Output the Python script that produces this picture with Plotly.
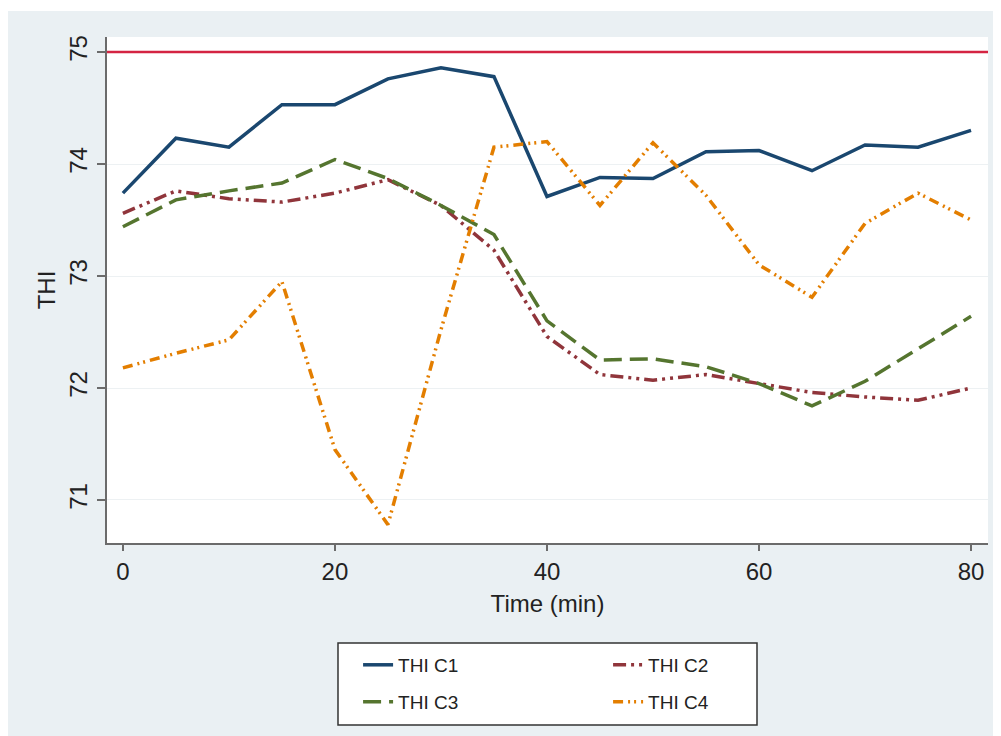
import plotly.graph_objects as go

# ---- data ----
time_min = [0, 5, 10, 15, 20, 25, 30, 35, 40, 45, 50, 55, 60, 65, 70, 75, 80]
thi_c1 = [73.74, 74.23, 74.15, 74.53, 74.53, 74.76, 74.86, 74.78, 73.71, 73.88, 73.87, 74.11, 74.12, 73.94, 74.17, 74.15, 74.30]
thi_c2 = [73.56, 73.76, 73.69, 73.66, 73.74, 73.86, 73.63, 73.23, 72.46, 72.12, 72.07, 72.12, 72.04, 71.96, 71.92, 71.89, 72.00]
thi_c3 = [73.44, 73.68, 73.76, 73.83, 74.04, 73.87, 73.63, 73.37, 72.60, 72.25, 72.26, 72.19, 72.04, 71.84, 72.06, 72.35, 72.64]
thi_c4 = [72.18, 72.31, 72.43, 72.95, 71.45, 70.78, 72.52, 74.15, 74.20, 73.63, 74.19, 73.72, 73.10, 72.81, 73.47, 73.74, 73.50]
threshold = 75
series_names = ["THI C1", "THI C2", "THI C3", "THI C4"]
y_ticks = [71, 72, 73, 74, 75]
x_ticks = [0, 20, 40, 60, 80]

BG = "#EAF0F3"
TXT = "#222222"
AX = "#6b6b6b"
FONT = "Liberation Sans, Arial"

fig = go.Figure()

styles = [
    dict(color="#1a476f", dash="solid", legend="legend"),
    dict(color="#90353b", dash="13px,5px,3px,5px,3px,5px", legend="legend"),
    dict(color="#55752f", dash="18px,8px", legend="legend2"),
    dict(color="#e37e00", dash="10px,5px,2px,4px,2px,5px", legend="legend2"),
]
for name, ys, st in zip(series_names, [thi_c1, thi_c2, thi_c3, thi_c4], styles):
    fig.add_trace(go.Scatter(
        x=time_min, y=ys, mode="lines", name=name,
        line=dict(color=st["color"], dash=st["dash"], width=3.5),
        legend=st["legend"], hoverinfo="skip",
    ))

fig.add_hline(y=threshold, line=dict(color="#d42442", width=2.5))

# thin white strip on top, legend frame
fig.add_shape(type="rect", xref="paper", yref="paper", x0=-0.2, x1=1.2, y0=1.0514, y1=1.2,
              fillcolor="white", line=dict(width=0), layer="below")
fig.add_shape(type="rect", xref="paper", yref="paper", x0=0.2622, x1=0.7378, y0=-0.3597, y1=-0.1976,
              fillcolor="white", line=dict(color="#333333", width=1.5), layer="below")

legend_common = dict(orientation="h", xanchor="left", yanchor="middle",
                     bgcolor="rgba(0,0,0,0)", borderwidth=0,
                     font=dict(family=FONT, size=19, color=TXT),
                     entrywidth=205, itemwidth=30)

fig.update_layout(
    width=993, height=728,
    margin=dict(l=99, r=13, t=29, b=193, autoexpand=False),
    paper_bgcolor=BG, plot_bgcolor="white",
    font=dict(family=FONT, size=24, color=TXT),
    showlegend=True,
    legend=dict(x=0.285, y=-0.241, **legend_common),
    legend2=dict(x=0.285, y=-0.314, **legend_common),
    xaxis=dict(
        range=[-1.5, 81.6], tickvals=x_ticks, showgrid=False, zeroline=False,
        showline=True, linecolor=AX, linewidth=2,
        ticks="outside", ticklen=6, tickcolor=AX, tickwidth=1.5,
        tickfont=dict(size=24, color=TXT),
        title=dict(text="Time (min)", font=dict(size=24, color=TXT), standoff=11),
    ),
    yaxis=dict(
        range=[70.616, 75.134], tickvals=y_ticks, showgrid=True, gridcolor="#EDF1F3", gridwidth=1,
        zeroline=False, showline=True, linecolor=AX, linewidth=2,
        ticks="outside", ticklen=8, tickcolor=AX, tickwidth=1.5, tickangle=-90,
        tickfont=dict(size=24, color=TXT),
        title=dict(text="THI", font=dict(size=24, color=TXT), standoff=3),
    ),
)

fig.write_html("out.html")
